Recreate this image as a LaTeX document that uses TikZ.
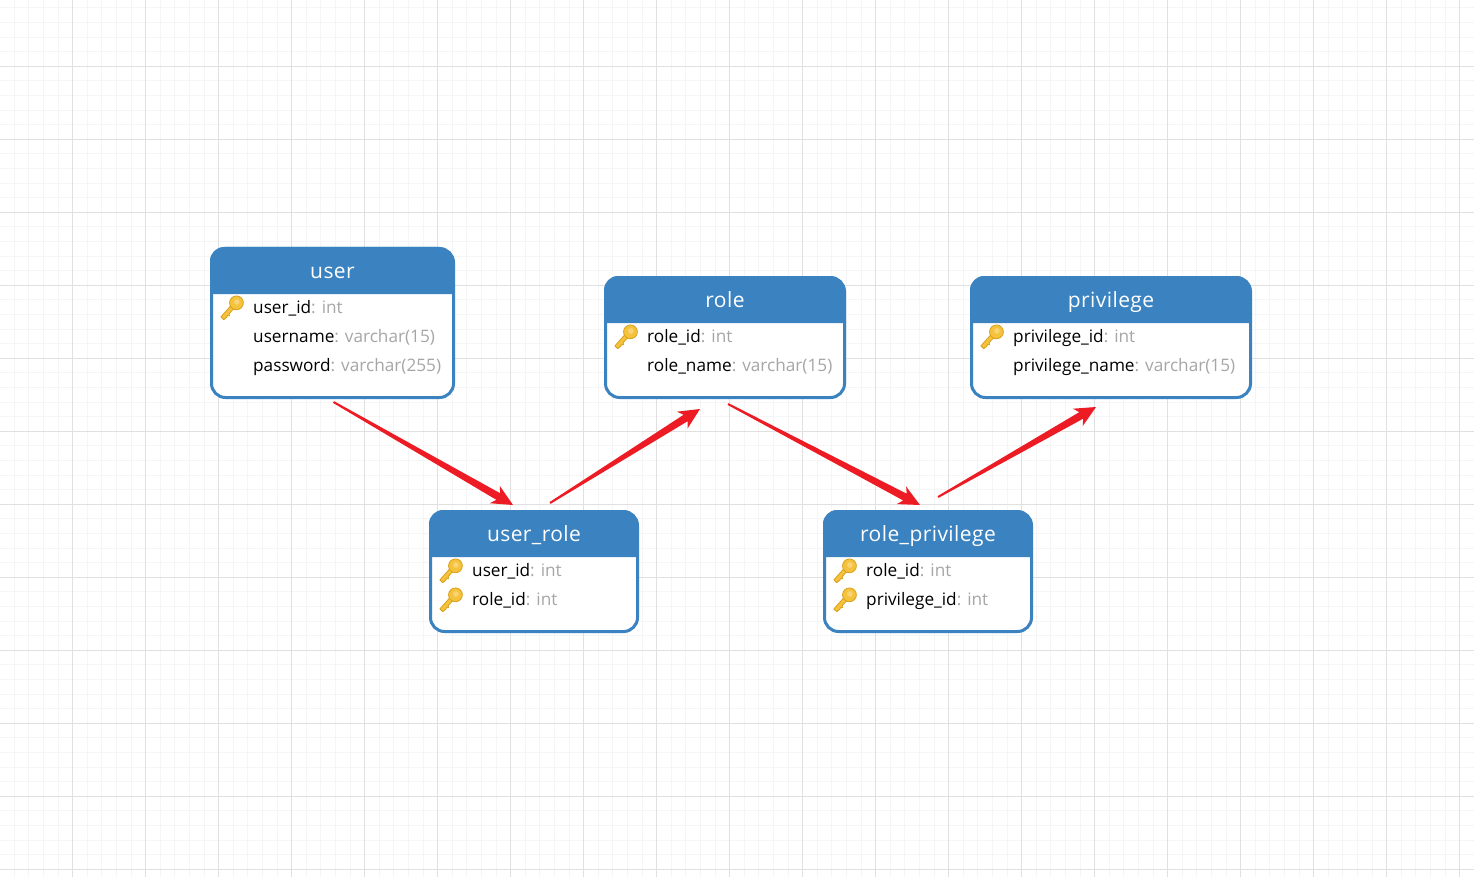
\documentclass[tikz,border=0pt]{standalone}
\usepackage{fontspec}
\setmainfont{Open Sans}
\usetikzlibrary{calc}
\definecolor{tablehead}{HTML}{3A82C0}
\definecolor{typegray}{HTML}{A6A6A6}
\definecolor{linkred}{HTML}{ED1C24}
\definecolor{gridmajor}{HTML}{E0E0E0}
\definecolor{gridminor}{HTML}{F5F5F5}
\definecolor{keyfill}{HTML}{F5C23C}
\definecolor{keyedge}{HTML}{D9A01E}
\tikzset{
  tablebox/.style={draw=tablehead,fill=white,line width=3pt,rounded corners=14pt,
    anchor=north west,inner sep=0pt},
  tabletitle/.style={text=white,font=\fontsize{21}{25}\selectfont\addfontfeature{LetterSpace=2},inner sep=0pt,anchor=base},
  columnrow/.style={text=black,font=\fontsize{17.2}{21}\selectfont,inner sep=0pt,anchor=base west},
  pics/primarykey/.style={code={
    \begin{scope}[scale=1.08]
    \fill[keyfill,draw=keyedge,line width=.8pt,line join=round]
      (-8.6,12.2) -- (-11.2,9.6) -- (-1.6,-1.2) -- (1.2,1.6) -- (-3.6,6.6) -- (-3.2,8.6) -- (-5.2,8.4) -- (-5.6,9.8) -- cycle;
    \fill[keyfill,draw=keyedge,line width=.8pt] (3.2,-3.4) circle[radius=6.4];
    \fill[keyfill!70!white] (3.6,-4.2) circle[radius=2.6];
    \end{scope}
  }}
}
% Table: name, left, top, width, height, header height, title
\newcommand{\erdtable}[7]{
  \node[tablebox,minimum width=#4pt,minimum height=#5pt] (#1) at (#2-1.5,#3-1.5) {};
  \fill[tablehead] (#2-1.5,#3+#6) [rounded corners=14pt] -- (#2-1.5,#3-1.5) -- (#2+#4-1.5,#3-1.5) [sharp corners] -- (#2+#4-1.5,#3+#6) -- cycle;
  \node[tabletitle] (#1-title) at ($(#2,#3)!.5!(#2+#4,#3)+(0,30)$) {#7};
}
% Column row: node name, left of the table, top of the table, row index, column, type
\newcommand{\erdrow}[6]{
  \node[columnrow] (#1) at (#2+41.5,#3+36+#4*29) {#5\textcolor{typegray}{: #6}};
}
\newcommand{\erdkey}[4]{
  \pic (#1) at (#2+21.5,#3+36+#4*29-7) {primarykey};
}
% Tapered link: thin at its start, with a swept arrow head at its end
\newcommand{\taperlink}[2]{
  \fill[linkred] ($(#1)!1pt!90:(#2)$)
    -- ($(#2)!17pt!(#1)!3.8pt!-90:(#1)$)
    -- ($(#2)!21pt!(#1)!10pt!-90:(#1)$)
    -- (#2)
    -- ($(#2)!21pt!(#1)!10pt!90:(#1)$)
    -- ($(#2)!17pt!(#1)!3.8pt!90:(#1)$)
    -- ($(#1)!1pt!-90:(#2)$)
    -- cycle;
}
\begin{document}
\begin{tikzpicture}[x=1pt,y=-1pt]
\useasboundingbox (0,0) rectangle (1474,877);
\fill[white] (0,0) rectangle (1474,877);
% Sheet grid
\begin{scope}
\clip (0,0) rectangle (1474,877);
\foreach \k in {0,...,101} {
  \draw[gridminor,line width=1pt] ({-0.3+14.6*\k},0) -- ({-0.3+14.6*\k},877);
}
\foreach \k in {0,...,60} {
  \draw[gridminor,line width=1pt] (0,{-6.7+14.6*\k}) -- (1474,{-6.7+14.6*\k});
}
\foreach \k in {0,...,20} {
  \draw[gridmajor,line width=1pt] ({-0.3+73*\k},0) -- ({-0.3+73*\k},877);
}
\foreach \k in {0,...,12} {
  \draw[gridmajor,line width=1pt] (0,{-6.7+73*\k}) -- (1474,{-6.7+73*\k});
}
\end{scope}

% Tables
\erdtable{user}{211.5}{248.5}{242}{149}{45.5}{user}
\erdrow{user-id}{211.5}{248.5}{1}{user\_id}{int}
\erdrow{user-name}{211.5}{248.5}{2}{username}{varchar(15)}
\erdrow{user-pass}{211.5}{248.5}{3}{password}{varchar(255)}
\erdkey{user-key}{211.5}{248.5}{1}

\erdtable{role}{605.5}{277.5}{239}{120}{45.5}{role}
\erdrow{role-id}{605.5}{277.5}{1}{role\_id}{int}
\erdrow{role-name}{605.5}{277.5}{2}{role\_name}{varchar(15)}
\erdkey{role-key}{605.5}{277.5}{1}

\erdtable{privilege}{971.5}{277.5}{279}{120}{45.5}{privilege}
\erdrow{priv-id}{971.5}{277.5}{1}{privilege\_id}{int}
\erdrow{priv-name}{971.5}{277.5}{2}{privilege\_name}{varchar(15)}
\erdkey{priv-key}{971.5}{277.5}{1}

\erdtable{userrole}{430.5}{511.5}{207}{120}{45.5}{user\_role}
\erdrow{ur-user}{430.5}{511.5}{1}{user\_id}{int}
\erdrow{ur-role}{430.5}{511.5}{2}{role\_id}{int}
\erdkey{ur-key-a}{430.5}{511.5}{1}
\erdkey{ur-key-b}{430.5}{511.5}{2}

\erdtable{roleprivilege}{824.5}{511.5}{207}{120}{45.5}{role\_privilege}
\erdrow{rp-role}{824.5}{511.5}{1}{role\_id}{int}
\erdrow{rp-priv}{824.5}{511.5}{2}{privilege\_id}{int}
\erdkey{rp-key-a}{824.5}{511.5}{1}
\erdkey{rp-key-b}{824.5}{511.5}{2}

% Link ends sit just clear of each table
\coordinate (user-out) at ($(user.south)+(1,3)$);
\coordinate (ur-in) at ($(userrole.north)+(-21,-5)$);
\coordinate (ur-out) at ($(userrole.north)+(16,-7)$);
\coordinate (role-in) at ($(role.south)+(-25,10)$);
\coordinate (role-out) at ($(role.south)+(3,5)$);
\coordinate (rp-in) at ($(roleprivilege.north)+(-8,-5)$);
\coordinate (rp-out) at ($(roleprivilege.north)+(10,-13)$);
\coordinate (priv-in) at ($(privilege.south)+(-15,8)$);

\taperlink{user-out}{ur-in}
\taperlink{ur-out}{role-in}
\taperlink{role-out}{rp-in}
\taperlink{rp-out}{priv-in}
\end{tikzpicture}
\end{document}
